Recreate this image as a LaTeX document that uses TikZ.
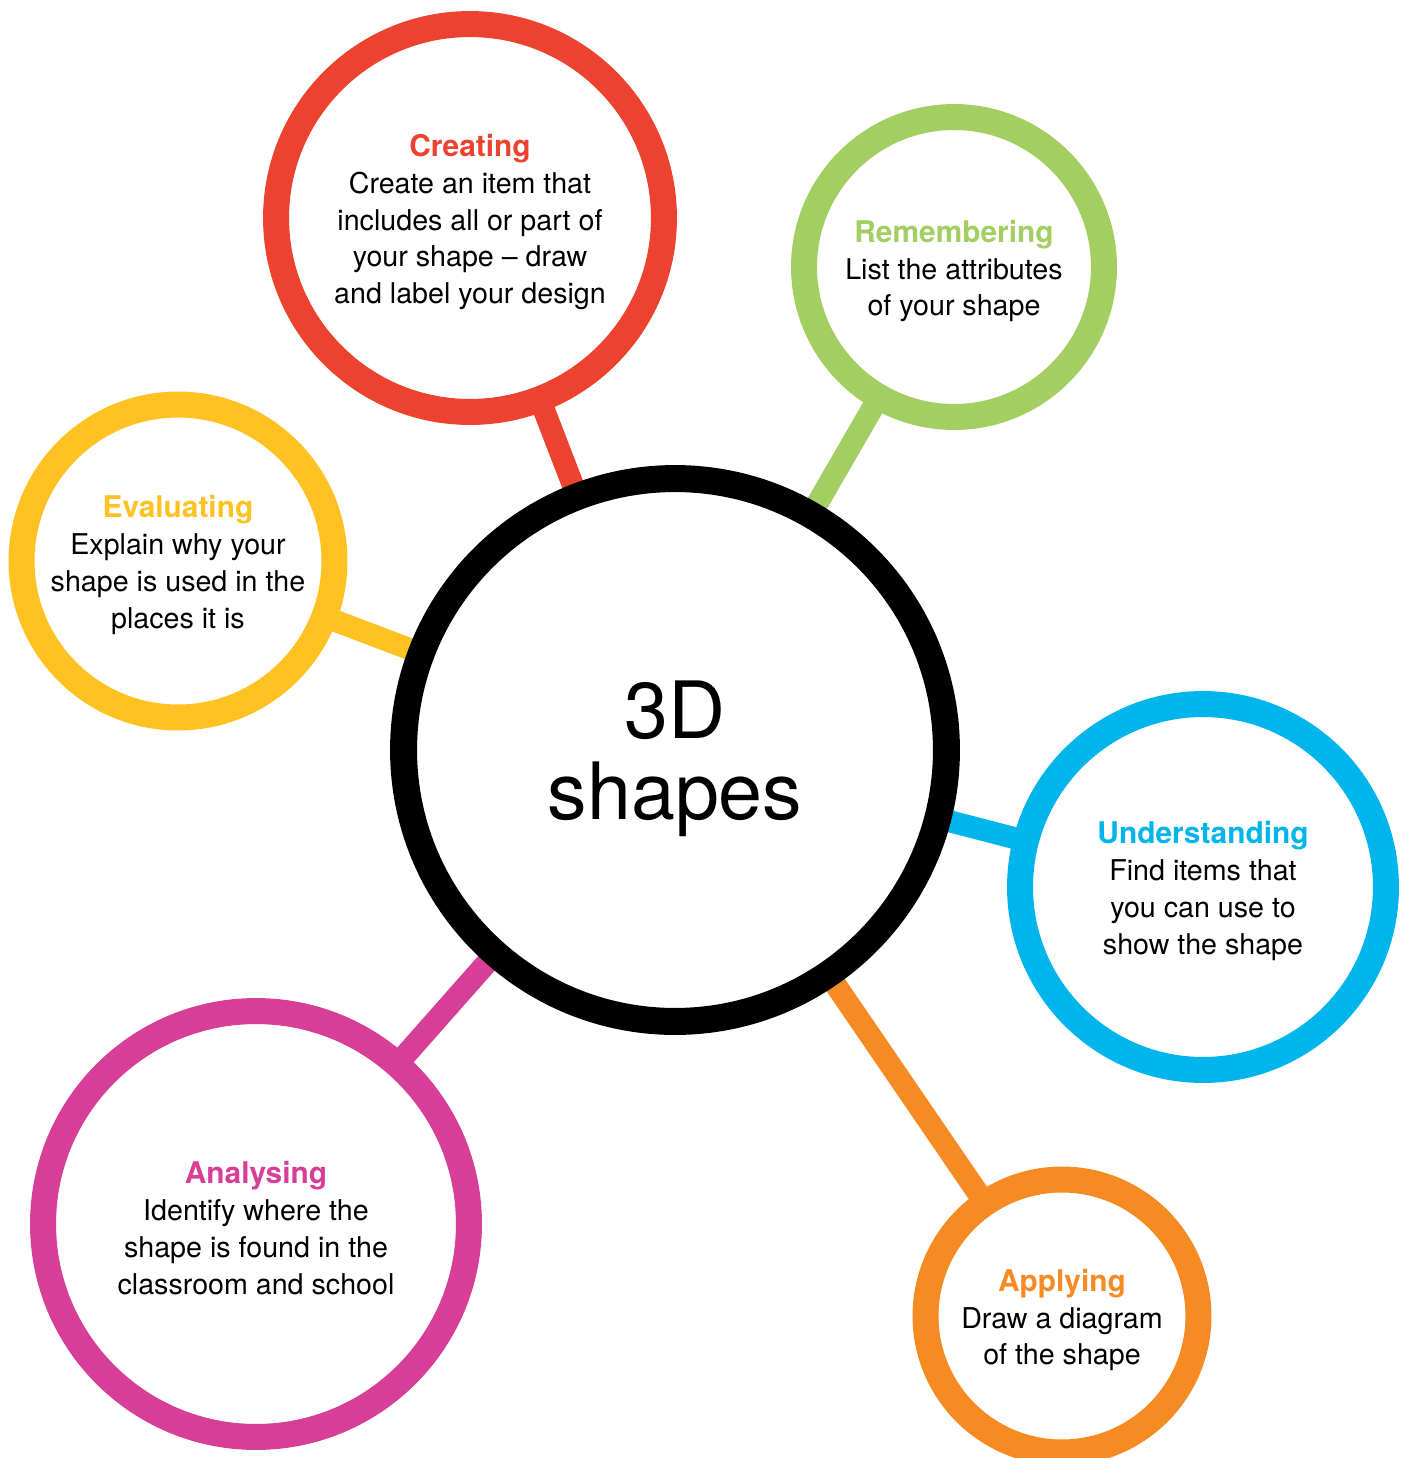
\documentclass[tikz,border=0pt]{standalone}
\usepackage{fontspec}
\setmainfont{TeX Gyre Heros}
\usetikzlibrary{backgrounds}
\definecolor{cred}{HTML}{EE4231}
\definecolor{cgreen}{HTML}{A3CE62}
\definecolor{cyellow}{HTML}{FFC222}
\definecolor{cblue}{HTML}{00B4EC}
\definecolor{cmag}{HTML}{D63E97}
\definecolor{corange}{HTML}{F58B22}
\newcommand{\ttlx}[2]{{\fontsize{17pt}{21pt}\selectfont\bfseries\textcolor{#1}{#2}}}
\tikzset{
  ring/.style={circle, fill=white, line width=0.52cm, inner sep=0pt},
  txt/.style={align=center, inner sep=0pt, yshift=-0.08cm,
    font=\fontsize{16.3pt}{21pt}\selectfont},
  link/.style={line width=0.44cm}
}
\begin{document}
\begin{tikzpicture}[x=0.02cm,y=-0.02cm]
\useasboundingbox (0,0) rectangle (1410,1458);
\node[ring, draw=black, line width=0.54cm, minimum size=10.86cm] (cen) at (675,750) {};
\node[ring, draw=cred, minimum size=7.76cm] (cre) at (470,218) {};
\node[ring, draw=cgreen, minimum size=6.0cm] (rem) at (954,267) {};
\node[ring, draw=cyellow, minimum size=6.26cm] (eva) at (178,561) {};
\node[ring, draw=cblue, minimum size=7.32cm] (und) at (1203,887) {};
\node[ring, draw=cmag, minimum size=8.52cm] (ana) at (256,1224) {};
\node[ring, draw=corange, minimum size=5.46cm] (app) at (1062,1316) {};
\node[align=center, inner sep=0pt, yshift=-0.18cm,
  font=\fontsize{45pt}{46pt}\selectfont] (cenT) at (cen.center) {3D\\shapes};
\node[txt] (creT) at (cre.center)
  {\ttlx{cred}{Creating}\\Create an item that\\includes all or part of\\your shape -- draw\\and label your design};
\node[txt] (remT) at (rem.center)
  {\ttlx{cgreen}{Remembering}\\List the attributes\\of your shape};
\node[txt] (evaT) at (eva.center)
  {\ttlx{cyellow}{Evaluating}\\Explain why your\\shape is used in the\\places it is};
\node[txt] (undT) at (und.center)
  {\ttlx{cblue}{Understanding}\\Find items that\\you can use to\\show the shape};
\node[txt] (anaT) at (ana.center)
  {\ttlx{cmag}{Analysing}\\Identify where the\\shape is found in the\\classroom and school};
\node[txt] (appT) at (app.center)
  {\ttlx{corange}{Applying}\\Draw a diagram\\of the shape};
\begin{scope}[on background layer]
\draw[link, cred] (cre.center) -- (cen.center);
\draw[link, cgreen] (rem.center) -- (cen.center);
\draw[link, cyellow] (eva.center) -- (cen.center);
\draw[link, cblue] (und.center) -- (cen.center);
\draw[link, cmag] (ana.center) -- (cen.center);
\draw[link, corange] (app.center) -- (cen.center);
\end{scope}
\end{tikzpicture}
\end{document}
